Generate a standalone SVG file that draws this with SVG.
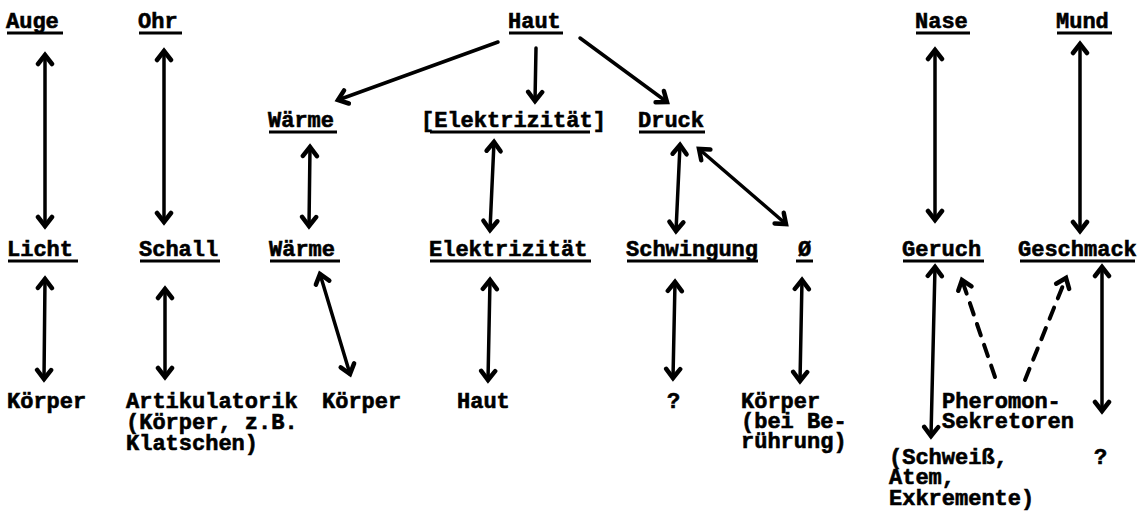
<svg xmlns="http://www.w3.org/2000/svg" width="1137" height="512" viewBox="0 0 1137 512">
<style>
  text { font-family: "Liberation Mono", "DejaVu Sans Mono", monospace; font-size: 22px; font-weight: bold; fill: #000; stroke: #000; stroke-width: 0.6; }
  .ul { stroke: #000; stroke-width: 3; }
  .c { stroke: #000; stroke-width: 3.5; fill: none; stroke-linecap: round; }
  .d { stroke-dasharray: 12 10; stroke-width: 4; }
</style>
<defs>
  <marker id="ah" markerUnits="userSpaceOnUse" viewBox="-14 -10 18 20" refX="0" refY="0" markerWidth="18" markerHeight="20" orient="auto-start-reverse">
    <path d="M-9,-7 L0,0 L-9,7" fill="none" stroke="#000" stroke-width="4.5" stroke-linejoin="miter" stroke-linecap="round"/>
  </marker>
</defs>
<rect width="1137" height="512" fill="#fff"/>

<g id="auge"><text x="6" y="28">Auge</text><line class="ul" x1="7" y1="33" x2="63" y2="33"/></g>
<g id="ohr"><text x="138" y="28">Ohr</text><line class="ul" x1="139" y1="33" x2="182" y2="33"/></g>
<g id="haut-top"><text x="508" y="28">Haut</text><line class="ul" x1="509" y1="33" x2="563" y2="33"/></g>
<g id="nase"><text x="915" y="28">Nase</text><line class="ul" x1="916" y1="33" x2="970" y2="33"/></g>
<g id="mund"><text x="1056" y="28">Mund</text><line class="ul" x1="1057" y1="33" x2="1112" y2="33"/></g>

<g id="waerme-2"><text x="268" y="127">Wärme</text><line class="ul" x1="269" y1="132" x2="337" y2="132"/></g>
<g id="elektrizitaet-2"><text x="421" y="127">[Elektrizität]</text><line class="ul" x1="430" y1="132" x2="590" y2="132"/></g>
<g id="druck"><text x="638" y="127">Druck</text><line class="ul" x1="639" y1="132" x2="705" y2="132"/></g>

<g id="licht"><text x="7" y="256">Licht</text><line class="ul" x1="8" y1="261" x2="78" y2="261"/></g>
<g id="schall"><text x="139" y="256">Schall</text><line class="ul" x1="140" y1="261" x2="220" y2="261"/></g>
<g id="waerme-3"><text x="269" y="256">Wärme</text><line class="ul" x1="270" y1="261" x2="340" y2="261"/></g>
<g id="elektrizitaet-3"><text x="429" y="256">Elektrizität</text><line class="ul" x1="430" y1="261" x2="591" y2="261"/></g>
<g id="schwingung"><text x="626" y="256">Schwingung</text><line class="ul" x1="627" y1="261" x2="758" y2="261"/></g>
<g id="null"><text x="798" y="256">Ø</text><line class="ul" x1="796" y1="261" x2="813" y2="261"/></g>
<g id="geruch"><text x="902" y="256">Geruch</text><line class="ul" x1="903" y1="261" x2="984" y2="261"/></g>
<g id="geschmack"><text x="1018" y="256">Geschmack</text><line class="ul" x1="1020" y1="261" x2="1135" y2="261"/></g>

<g id="koerper-1"><text x="7" y="408">Körper</text></g>
<g id="artikulatorik"><text x="126" y="408">Artikulatorik</text><text x="126" y="429">(Körper, z.B.</text><text x="126" y="450">Klatschen)</text></g>
<g id="koerper-2"><text x="322" y="408">Körper</text></g>
<g id="haut-bottom"><text x="457" y="408">Haut</text></g>
<g id="frage-1"><text x="667" y="408">?</text></g>
<g id="koerper-3"><text x="741" y="408">Körper</text><text x="741" y="428">(bei Be-</text><text x="741" y="448">rührung)</text></g>
<g id="pheromon"><text x="942" y="408">Pheromon-</text><text x="942" y="428">Sekretoren</text></g>
<g id="schweiss"><text x="889" y="464">(Schweiß,</text><text x="889" y="484">Atem,</text><text x="889" y="505">Exkremente)</text></g>
<g id="frage-2"><text x="1094" y="464">?</text></g>

<g id="connectors">
  <line class="c" x1="45" y1="55" x2="45" y2="226" marker-start="url(#ah)" marker-end="url(#ah)"/>
  <line class="c" x1="164" y1="51" x2="164" y2="222" marker-start="url(#ah)" marker-end="url(#ah)"/>
  <line class="c" x1="310" y1="147" x2="309" y2="226" marker-start="url(#ah)" marker-end="url(#ah)"/>
  <line class="c" x1="498" y1="42" x2="338" y2="100" marker-end="url(#ah)"/>
  <line class="c" x1="536" y1="48" x2="535" y2="101" marker-end="url(#ah)"/>
  <line class="c" x1="580" y1="38" x2="667" y2="102" marker-end="url(#ah)"/>
  <line class="c" x1="494" y1="142" x2="490" y2="230" marker-start="url(#ah)" marker-end="url(#ah)"/>
  <line class="c" x1="680" y1="145" x2="676" y2="231" marker-start="url(#ah)" marker-end="url(#ah)"/>
  <line class="c" x1="699" y1="149" x2="786" y2="224" marker-start="url(#ah)" marker-end="url(#ah)"/>
  <line class="c" x1="45" y1="279" x2="44" y2="379" marker-start="url(#ah)" marker-end="url(#ah)"/>
  <line class="c" x1="165" y1="289" x2="165" y2="377" marker-start="url(#ah)" marker-end="url(#ah)"/>
  <line class="c" x1="320" y1="274" x2="350" y2="374" marker-start="url(#ah)" marker-end="url(#ah)"/>
  <line class="c" x1="490" y1="280" x2="488" y2="380" marker-start="url(#ah)" marker-end="url(#ah)"/>
  <line class="c" x1="675" y1="282" x2="673" y2="378" marker-start="url(#ah)" marker-end="url(#ah)"/>
  <line class="c" x1="802" y1="280" x2="800" y2="381" marker-start="url(#ah)" marker-end="url(#ah)"/>
  <line class="c" x1="935" y1="50" x2="935" y2="220" marker-start="url(#ah)" marker-end="url(#ah)"/>
  <line class="c" x1="1080" y1="44" x2="1080" y2="231" marker-start="url(#ah)" marker-end="url(#ah)"/>
  <line class="c" x1="935" y1="267" x2="931" y2="436" marker-start="url(#ah)" marker-end="url(#ah)"/>
  <line class="c" x1="1102" y1="267" x2="1102" y2="411" marker-start="url(#ah)" marker-end="url(#ah)"/>
  <line class="c d" x1="995" y1="377" x2="962" y2="280" marker-end="url(#ah)"/>
  <line class="c d" x1="1025" y1="380" x2="1066" y2="278" marker-end="url(#ah)"/>
</g>
</svg>
